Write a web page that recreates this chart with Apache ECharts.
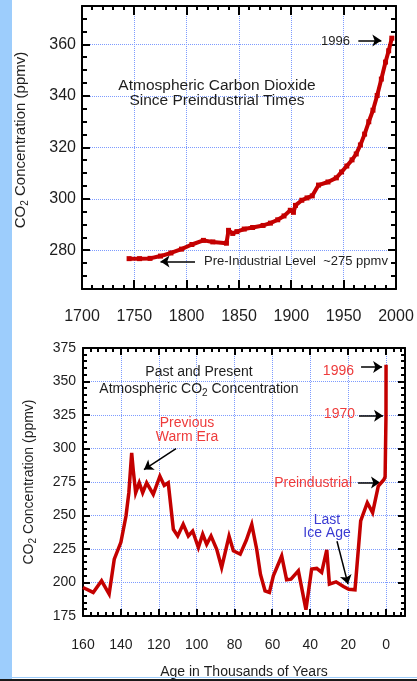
<!DOCTYPE html>
<html>
<head>
<meta charset="utf-8">
<script src="https://cdn.jsdelivr.net/npm/echarts@6/dist/echarts.min.js"></script>
<style>
  html, body { margin: 0; padding: 0; background: #fff; }
  #page {
    position: relative; width: 417px; height: 681px; overflow: hidden;
    background: linear-gradient(to right, #9dcdfc 0, #9dcdfc 12px, #fff 12px);
  }
  #recent { position: absolute; left: 0; top: 0; width: 417px; height: 335px; }
  #longterm { position: absolute; left: 0; top: 335px; width: 417px; height: 346px; }
  .rule { position: absolute; left: 0; width: 417px; }
</style>
</head>
<body>
<div id="page">
  <div id="recent"></div>
  <div id="longterm"></div>
  <div class="rule" style="top:677px;height:1px;background:#9dcdfc"></div>
  <div class="rule" style="top:679px;height:2px;background:#1a1a1a"></div>
</div>
<script>
// ---- Data -------------------------------------------------------------
// Atmospheric CO2 since preindustrial times (ice core + Mauna Loa), ppmv
const recentYears = [1745, 1755, 1765, 1775, 1785, 1795, 1805, 1816, 1825, 1838,
  1840, 1844, 1848, 1855, 1863, 1873, 1880, 1887, 1893, 1899, 1902, 1904, 1910,
  1915, 1920, 1926, 1935, 1943, 1948, 1953, 1958, 1962, 1966, 1970, 1974, 1978,
  1982, 1986, 1990, 1993, 1996];
const recentCo2 = [276.8, 276.8, 276.9, 277.8, 279.0, 280.5, 282.3, 283.9, 283.3, 282.8,
  287.8, 286.6, 287.3, 288.3, 288.9, 289.7, 290.6, 291.9, 293.4, 295.6, 294.8, 297.5, 299.5,
  300.4, 301.2, 305.4, 306.6, 308.2, 310.5, 312.8, 315.2, 317.5, 321.0, 325.2, 330.0, 334.5,
  340.2, 346.6, 353.2, 357.6, 362.5];

// Past 160,000 years: age in thousands of years before present, CO2 in ppmv
const ageKyr = [160, 154.6, 150.2, 146.2, 143.5, 140, 137.3, 135.8, 134.3, 133.5,
  132.2, 130.3, 128.5, 126.4, 122.9, 119.4, 117.1, 115, 112.3, 110, 107.1, 104.4,
  102.1, 99.1, 96.8, 94.7, 92.4, 89.4, 86.8, 82.9, 80.6, 77, 73.8, 70.9, 68.3, 66.3,
  63.9, 61.6, 59.5, 55.1, 52.5, 50.2, 46.3, 42.3, 39.3, 36.6, 34, 31.3, 29.9, 26.4,
  22.5, 19.7, 16.4, 13.4, 9.9, 7.1, 4.1, 1.1, 0.5, 0.25, 0.03, 0.004];
const ageCo2 = [196.3, 192.6, 201.3, 191.4, 217.4, 230, 249.6, 267, 296.7, 284.3,
  267, 274.4, 267, 274.4, 265.7, 279.3, 272.4, 274.4, 239.7, 234.7, 243.4, 234.7,
  238.4, 226.1, 236, 228.5, 234.7, 224.8, 211.2, 234.7, 223.6, 221.1, 231.5, 243.4, 224.8, 206,
  193.8, 192.6, 205, 219.8, 202, 202.5, 208.7, 179.7, 210, 210.5, 207.5, 224.3, 198.8, 200.5,
  197, 195, 194.6, 245.9, 259.5, 252.1, 271.9, 276.9, 278.9, 280, 325, 362.5];

// Tick labels
const yearTicks = [1700, 1750, 1800, 1850, 1900, 1950, 2000];
const recentCo2Ticks = [280, 300, 320, 340, 360];
const ageTicks = [160, 140, 120, 100, 80, 60, 40, 20, 0];
const ageCo2Ticks = [175, 200, 225, 250, 275, 300, 325, 350, 375];

// ---- Styling ----------------------------------------------------------
const FONT = '"Liberation Sans", Arial, Helvetica, sans-serif';
const INK = '#1e1e1e';
const LINE_RED = '#c40000';
const NOTE_RED = '#ee3b3b';
const NOTE_BLUE = '#3b3bd2';

function frame() { return { color: '#000', width: 2 }; }
function dots() { return { color: '#7d9bff', width: 1, type: [1, 1] }; }

function onlyTicks(list) {
  return v => (list.indexOf(Math.round(v * 1000) / 1000) >= 0 ? String(v) : '');
}

// Rich-text styles for "CO2" with a subscript 2
function subRich(size, color) {
  return {
    n: { fontSize: size, fontFamily: FONT, fontWeight: 'normal', color: color, lineHeight: size + 3 },
    s: { fontSize: Math.round(size * 0.68), fontFamily: FONT, fontWeight: 'normal', color: color, verticalAlign: 'bottom', lineHeight: 8 }
  };
}
const CO2_NAME = '{n|CO}{s|2}{n| Concentration (ppmv)}';

// One value axis with a black frame edge; the primary side carries
// labels and the dotted grid. Tick marks are drawn by frameTicks().
function valueAxis(position, primary, range, label, name) {
  const axis = {
    type: 'value',
    position: position,
    min: range.min,
    max: range.max,
    axisLine: { show: true, onZero: false, lineStyle: frame() },
    axisTick: { show: false },
    minorTick: { show: false },
    splitLine: { show: primary, lineStyle: dots() },
    axisLabel: primary
      ? { show: true, color: INK, fontFamily: FONT, fontSize: label.size, margin: label.margin, formatter: onlyTicks(label.ticks) }
      : { show: false }
  };
  if (range.interval) axis.interval = range.interval;
  if (range.splitNumber) axis.splitNumber = range.splitNumber;
  if (range.inverse) axis.inverse = true;
  if (name) Object.assign(axis, name, { nameLocation: 'middle', nameMoveOverlap: false });
  return axis;
}

// Tick values along one axis: [value, isMajor] for every minor step inside the range
function tickValues(min, max, minorStep, majorStep) {
  const out = [];
  const first = Math.ceil(min / minorStep) * minorStep;
  for (let v = first; v <= max + 1e-9; v += minorStep) {
    const r = Math.round(v * 1000) / 1000;
    const isMajor = Math.abs(r / majorStep - Math.round(r / majorStep)) < 1e-6;
    out.push([r, isMajor ? 1 : 0]);
  }
  return out;
}

// Inward tick marks on all four frame edges, placed through the axes' own scales.
// Each item: [edge (0 bottom, 1 top, 2 left, 3 right), value, length]
function frameTicks(xTicks, yTicks, anyX, anyY, len) {
  const data = [];
  xTicks.forEach(t => { const l = t[1] ? len.xMajor : len.xMinor; data.push([0, t[0], l], [1, t[0], l]); });
  yTicks.forEach(t => { const l = t[1] ? len.yMajor : len.yMinor; data.push([2, t[0], l], [3, t[0], l]); });
  return {
    type: 'custom',
    silent: true,
    z: 4,
    clip: false,
    encode: { x: -1, y: -1 },
    data: data,
    renderItem: function (params, api) {
      const edge = api.value(0), v = api.value(1), l = api.value(2);
      const cs = params.coordSys;
      let shape;
      if (edge < 2) {
        const px = Math.round(api.coord([v, anyY])[0]);
        const y0 = edge === 0 ? cs.y + cs.height : cs.y;
        const dir = edge === 0 ? -1 : 1;
        shape = { x1: px, y1: y0, x2: px, y2: y0 + dir * l };
      } else {
        const py = Math.round(api.coord([anyX, v])[1]);
        const x0 = edge === 2 ? cs.x : cs.x + cs.width;
        const dir = edge === 2 ? 1 : -1;
        shape = { x1: x0, y1: py, x2: x0 + dir * l, y2: py };
      }
      return { type: 'line', shape: shape, style: { stroke: '#000', lineWidth: 2 } };
    }
  };
}

// Free-standing caption, centred (or edge-aligned) on a point
function caption(x, y, str, style, align) {
  return {
    text: str,
    left: x,
    top: y,
    padding: 0,
    textAlign: align || 'center',
    textVerticalAlign: 'middle',
    textStyle: Object.assign({ fontFamily: FONT, fontWeight: 'normal', fontSize: 14, color: INK }, style)
  };
}

// Annotation arrows, in data units: [fromX, fromY, toX, toY]
const recentArrows = [[1808, 275.7, 1775, 275.7], [1964, 361.6, 1986, 361.6]];
const ageArrows = [[110.9, 299.9, 127.8, 284.3], [13.2, 360.9, 2.1, 360.9],
  [14.3, 324.4, 1.6, 324.4], [14.8, 274.6, 3.2, 274.6], [25.9, 230.8, 20.1, 198.8]];

function arrowLines(list) {
  return {
    silent: true,
    animation: false,
    symbol: ['none', 'arrow'],
    symbolSize: 9,
    label: { show: false },
    emphasis: { disabled: true },
    lineStyle: { color: '#000', width: 1.5, type: 'solid' },
    data: list.map(a => [{ coord: [a[0], a[1]] }, { coord: [a[2], a[3]] }])
  };
}

// ---- Upper panel: since 1745 -------------------------------------------
const yearRange = { min: 1700, max: 2000, interval: 50 };
const recentCo2Range = { min: 265, max: 375, splitNumber: 5 };
const yearLabel = { size: 16, margin: 20, ticks: yearTicks };
const recentCo2Label = { size: 16, margin: 6, ticks: recentCo2Ticks };

const recentOption = {
  animation: false,
  grid: { left: 82, top: 6, width: 314, height: 283, containLabel: false, outerBoundsMode: 'none' },
  title: [
    caption(217, 93, 'Atmospheric Carbon Dioxide\nSince Preindustrial Times', { fontSize: 15.5, lineHeight: 15 }),
    caption(321, 41, '1996', { fontSize: 13 }, 'left'),
    caption(204, 261, 'Pre-Industrial Level  ~275 ppmv', { fontSize: 13 }, 'left')
  ],
  xAxis: [
    valueAxis('bottom', true, yearRange, yearLabel),
    valueAxis('top', false, yearRange, yearLabel)
  ],
  yAxis: [
    valueAxis('left', true, recentCo2Range, recentCo2Label, {
      name: CO2_NAME, nameRotate: 90, nameGap: 52,
      nameTextStyle: { rich: subRich(15, INK), padding: [0, 0, 0, 15] }
    }),
    valueAxis('right', false, recentCo2Range, recentCo2Label)
  ],
  series: [
    frameTicks(tickValues(1700, 2000, 10, 50), tickValues(265, 375, 5, 20), 1800, 300,
      { xMajor: 9, xMinor: 4, yMajor: 8, yMinor: 5 }),
    {
      name: 'Since 1745',
      type: 'line',
      data: recentYears.map((y, i) => [y, recentCo2[i]]),
      symbol: 'rect',
      symbolSize: 5,
      showSymbol: true,
      showAllSymbol: true,
      itemStyle: { color: LINE_RED },
      lineStyle: { color: LINE_RED, width: 4 },
      silent: true,
      z: 5,
      markLine: arrowLines(recentArrows)
    }
  ]
};

// ---- Lower panel: past 160,000 years -----------------------------------
const ageRange = { min: -10, max: 160, splitNumber: 8, inverse: true };
const ageCo2Range = { min: 175, max: 375, interval: 25 };
const ageLabel = { size: 14, margin: 22, ticks: ageTicks };
const ageCo2Label = { size: 14, margin: 7, ticks: ageCo2Ticks };

const longOption = {
  animation: false,
  grid: { left: 83, top: 13, width: 322, height: 268, containLabel: false, outerBoundsMode: 'none' },
  title: [
    caption(199, 46, '{n|Past and Present}\n{n|Atmospheric CO}{s|2}{n| Concentration}', { rich: subRich(14, INK) }),
    caption(187, 95, 'Previous\nWarm Era', { color: NOTE_RED, lineHeight: 14 }),
    caption(354, 36, '1996', { color: NOTE_RED }, 'right'),
    caption(355, 79, '1970', { color: NOTE_RED }, 'right'),
    caption(352, 148, 'Preindustrial', { color: NOTE_RED }, 'right'),
    caption(327, 192, 'Last\nIce Age', { color: NOTE_BLUE, lineHeight: 13 })
  ],
  xAxis: [
    valueAxis('bottom', true, ageRange, ageLabel, {
      name: 'Age in Thousands of Years', nameGap: 49,
      nameTextStyle: { fontFamily: FONT, fontSize: 14, color: INK, lineHeight: 14 }
    }),
    valueAxis('top', false, ageRange, ageLabel)
  ],
  yAxis: [
    valueAxis('left', true, ageCo2Range, ageCo2Label, {
      name: CO2_NAME, nameRotate: 90, nameGap: 45,
      nameTextStyle: { rich: subRich(14, INK) }
    }),
    valueAxis('right', false, ageCo2Range, ageCo2Label)
  ],
  series: [
    frameTicks(tickValues(-10, 160, 4, 20), tickValues(175, 375, 5, 25), 80, 250,
      { xMajor: 7, xMinor: 4, yMajor: 7, yMinor: 4 }),
    {
      name: 'Past 160,000 years',
      type: 'line',
      data: ageKyr.map((a, i) => [a, ageCo2[i]]),
      showSymbol: false,
      symbol: 'none',
      itemStyle: { color: LINE_RED },
      lineStyle: { color: LINE_RED, width: 3.5, join: 'miter', miterLimit: 6 },
      silent: true,
      z: 5,
      markLine: arrowLines(ageArrows)
    }
  ]
};

echarts.init(document.getElementById('recent'), null, { renderer: 'canvas' }).setOption(recentOption);
echarts.init(document.getElementById('longterm'), null, { renderer: 'canvas' }).setOption(longOption);
</script>
</body>
</html>
